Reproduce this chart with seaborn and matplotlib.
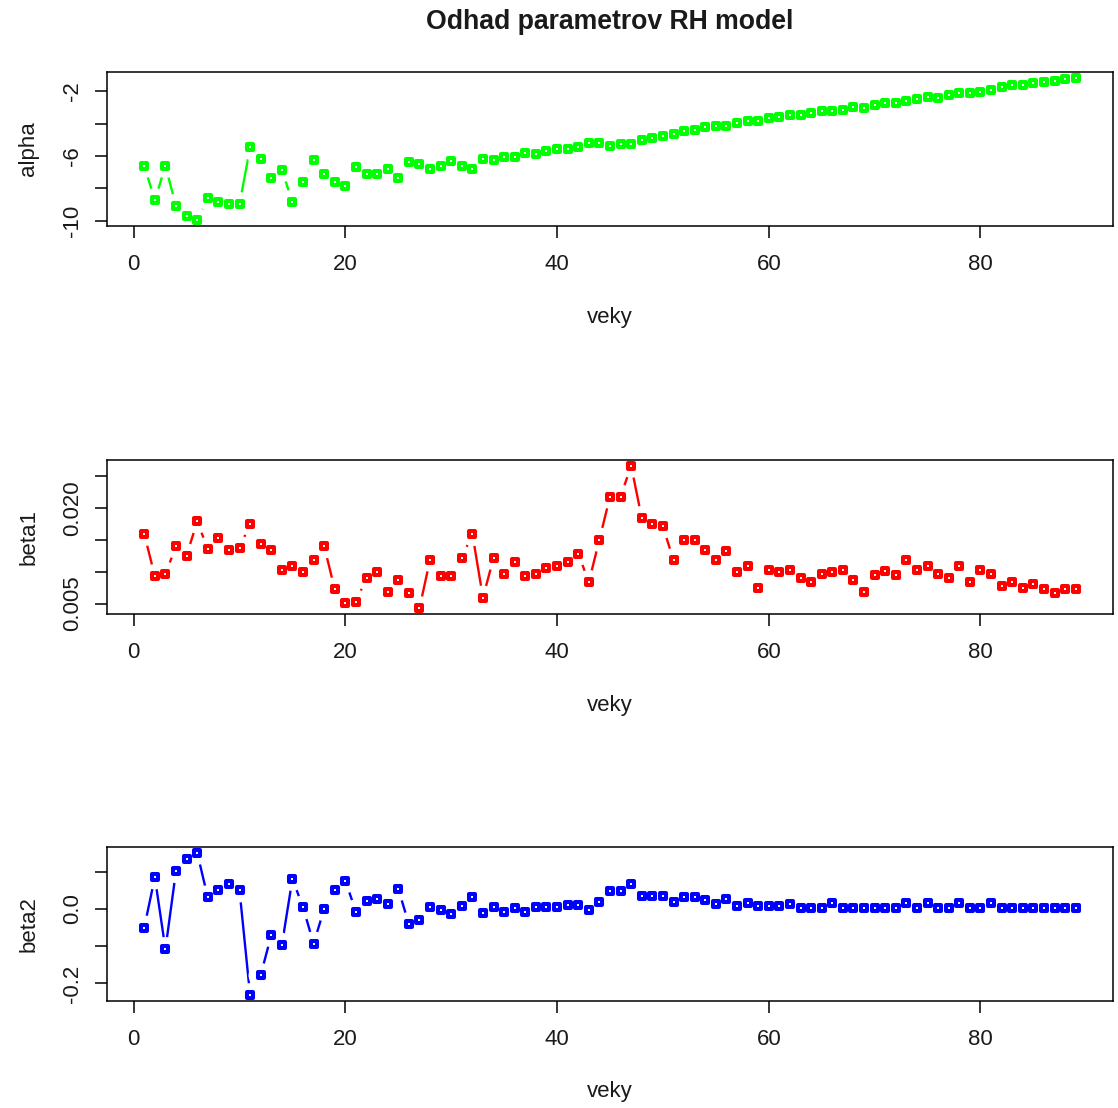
import numpy as np
import pandas as pd
import matplotlib
matplotlib.use("Agg")
import matplotlib.pyplot as plt
import seaborn as sns

# Age index and the three estimated Renshaw-Haberman parameter series
veky = list(range(1, 90))

alpha = [
    -6.62, -8.74, -6.62, -9.09, -9.71, -9.98, -8.60, -8.88, -8.99, -8.99,
    -5.48, -6.21, -7.35, -6.87, -8.84, -7.62, -6.25, -7.12, -7.62, -7.85,
    -6.71, -7.12, -7.12, -6.83, -7.35, -6.35, -6.50, -6.79, -6.62, -6.29,
    -6.62, -6.79, -6.21, -6.25, -6.10, -6.10, -5.84, -5.88, -5.67, -5.59,
    -5.59, -5.48, -5.21, -5.21, -5.38, -5.25, -5.25, -5.00, -4.88, -4.76,
    -4.63, -4.49, -4.38, -4.24, -4.13, -4.13, -3.97, -3.84, -3.82, -3.66,
    -3.60, -3.49, -3.49, -3.35, -3.20, -3.24, -3.14, -3.00, -3.04, -2.87,
    -2.72, -2.72, -2.62, -2.48, -2.37, -2.41, -2.25, -2.10, -2.10, -2.04,
    -1.94, -1.75, -1.65, -1.65, -1.48, -1.44, -1.40, -1.27, -1.17,
]

beta1 = [
    0.01594, 0.00931, 0.00969, 0.01400, 0.01255, 0.01791, 0.01359, 0.01531, 0.01348, 0.01375,
    0.01755, 0.01437, 0.01348, 0.01036, 0.01098, 0.01000, 0.01192, 0.01400, 0.00723, 0.00505,
    0.00531, 0.00906, 0.01000, 0.00687, 0.00869, 0.00661, 0.00427, 0.01192, 0.00931, 0.00931,
    0.01219, 0.01594, 0.00594, 0.01219, 0.00969, 0.01156, 0.00931, 0.00958, 0.01052, 0.01088,
    0.01156, 0.01286, 0.00838, 0.01505, 0.02181, 0.02181, 0.02666, 0.01844, 0.01755, 0.01713,
    0.01181, 0.01505, 0.01505, 0.01348, 0.01181, 0.01322, 0.00994, 0.01088, 0.00750, 0.01025,
    0.00994, 0.01036, 0.00906, 0.00838, 0.00973, 0.00994, 0.01036, 0.00869, 0.00681, 0.00942,
    0.01010, 0.00942, 0.01192, 0.01025, 0.01098, 0.00973, 0.00906, 0.01088, 0.00838, 0.01036,
    0.00969, 0.00775, 0.00838, 0.00750, 0.00802, 0.00723, 0.00672, 0.00723, 0.00723,
]

beta2 = [
    -0.050, 0.085, -0.108, 0.102, 0.133, 0.151, 0.031, 0.050, 0.066, 0.050,
    -0.232, -0.178, -0.070, -0.097, 0.081, 0.004, -0.093, 0.000, 0.052, 0.075,
    -0.007, 0.021, 0.026, 0.012, 0.054, -0.041, -0.029, 0.004, -0.003, -0.014,
    0.009, 0.031, -0.011, 0.006, -0.009, 0.002, -0.009, 0.004, 0.004, 0.004,
    0.011, 0.011, -0.003, 0.018, 0.048, 0.048, 0.066, 0.036, 0.036, 0.036,
    0.018, 0.031, 0.031, 0.025, 0.014, 0.027, 0.009, 0.017, 0.007, 0.007,
    0.007, 0.012, 0.002, 0.002, 0.002, 0.015, 0.002, 0.002, 0.002, 0.002,
    0.002, 0.002, 0.015, 0.002, 0.015, 0.002, 0.002, 0.015, 0.002, 0.002,
    0.015, 0.002, 0.002, 0.002, 0.002, 0.002, 0.002, 0.002, 0.002,
]

x_ticks = [0, 20, 40, 60, 80]

alpha_ticks = [-10, -8, -6, -4, -2]
alpha_ticklabels = ["-10", "", "-6", "", "-2"]
beta1_ticks = [0.005, 0.010, 0.015, 0.020, 0.025]
beta1_ticklabels = ["0.005", "", "", "0.020", ""]
beta2_ticks = [-0.2, -0.1, 0.0, 0.1]
beta2_ticklabels = ["-0.2", "", "0.0", ""]

title = "Odhad parametrov RH model"
xlabel = "veky"

sns.set_style("white")
plt.rcParams["font.family"] = ["Liberation Sans", "DejaVu Sans"]

W, H = 1118, 1108
fig = plt.figure(figsize=(W / 100, H / 100), dpi=100)

# panel boxes in pixels: (left, top, right, bottom)
boxes = [(107, 72, 1113, 226), (107, 460, 1113, 614), (107, 847, 1113, 1001)]

panels = [
    ("alpha", alpha, "#00FF00", alpha_ticks, alpha_ticklabels),
    ("beta1", beta1, "#FF0000", beta1_ticks, beta1_ticklabels),
    ("beta2", beta2, "#0000FF", beta2_ticks, beta2_ticklabels),
]

FS = 16
TXT = "#1a1a1a"
for (l, t, r, b), (name, vals, col, yt, ytl) in zip(boxes, panels):
    ax = fig.add_axes([l / W, 1 - b / H, (r - l) / W, (b - t) / H])
    df = pd.DataFrame({"veky": veky, name: vals})

    # connecting line
    sns.lineplot(data=df, x="veky", y=name, color=col, linewidth=1.7,
                 ax=ax, zorder=1, legend=False)
    # gaps in the line around every point
    sns.scatterplot(data=df, x="veky", y=name, marker="o", s=17.5 ** 2,
                    color="white", edgecolor="none", linewidth=0,
                    ax=ax, zorder=1.5, legend=False)
    # open square symbols
    sns.scatterplot(data=df, x="veky", y=name, marker="s", s=5.0 ** 2,
                    facecolor="white", edgecolor=col, linewidth=2.9,
                    ax=ax, zorder=3, legend=False)

    # axis ranges extended by 4% of the data range on each side
    xr = veky[-1] - veky[0]
    ax.set_xlim(veky[0] - 0.04 * xr, veky[-1] + 0.04 * xr)
    lo, hi = min(vals), max(vals)
    yr = hi - lo
    ax.set_ylim(lo - 0.04 * yr, hi + 0.04 * yr)

    ax.set_xticks(x_ticks)
    ax.set_xticklabels([str(v) for v in x_ticks])
    ax.set_yticks(yt)
    ax.set_yticklabels(ytl)

    for sp in ax.spines.values():
        sp.set_visible(True)
        sp.set_color("black")
        sp.set_linewidth(1.1)

    ax.tick_params(axis="both", which="major", direction="out", length=8.6,
                   width=1.1, color="black", labelsize=FS, labelcolor=TXT,
                   bottom=True, left=True)
    ax.tick_params(axis="x", pad=11.4)
    ax.tick_params(axis="y", pad=8.9, labelrotation=90)
    for lab in ax.get_yticklabels():
        lab.set_va("center")

    ax.set_xlabel(xlabel, fontsize=FS, color=TXT)
    ax.xaxis.set_label_coords(0.5, -91 / (b - t))
    ax.xaxis.label.set_va("center")
    ax.set_ylabel(name, fontsize=FS, color=TXT)
    ax.yaxis.set_label_coords(-78 / (r - l), 0.5)
    ax.yaxis.label.set_va("center")
    ax.yaxis.label.set_rotation_mode("anchor")
    ax.grid(False)

fig.text(610 / W, 1 - 22 / H, title, ha="center", va="center",
         fontsize=19.2, fontweight="bold", color=TXT)

fig.savefig("out.png", dpi=100, facecolor="white")
